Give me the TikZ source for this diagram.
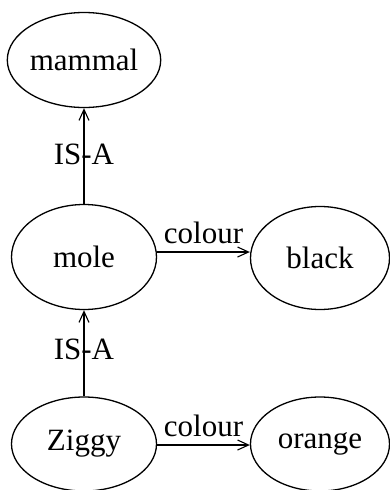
\documentclass[tikz,border=0pt]{standalone}
\usepackage{fontspec}
\setmainfont{Liberation Serif}
\usetikzlibrary{arrows.meta,shapes.geometric}
\begin{document}
\begin{tikzpicture}[x=1pt,y=-1pt,
  concept/.style={ellipse,draw,line width=1.3pt,inner sep=0pt,font=\fontsize{31}{36}\selectfont},
  rel/.style={line width=1.3pt,-{Straight Barb[length=11pt,width=10pt,line width=1.1pt]}},
  lab/.style={font=\fontsize{31}{36}\selectfont,inner sep=1pt}]
\useasboundingbox (0,0) rectangle (390,490);
\node[concept,minimum width=145pt,minimum height=95pt] (mammal) at (84,60) {mammal};
\node[concept,minimum width=145pt,minimum height=105pt] (mole) at (84,257) {mole};
\node[concept,minimum width=139pt,minimum height=103pt] (black) at (320,258) {black};
\node[concept,minimum width=145pt,minimum height=94pt] (ziggy) at (84,444) {Ziggy};
\node[concept,minimum width=139pt,minimum height=94pt] (orange) at (320,444) {orange};
\draw[rel] (mole) -- node[lab,pos=0.52] {IS-A} (mammal);
\draw[rel] (ziggy) -- node[lab,pos=0.55] {IS-A} (mole);
\draw[rel] (mole.east |- 0,252) -- node[lab,above=7pt] {colour} (black.west |- 0,252);
\draw[rel] (ziggy.east |- 0,445) -- node[lab,above=7pt] {colour} (orange.west |- 0,445);
\end{tikzpicture}
\end{document}
